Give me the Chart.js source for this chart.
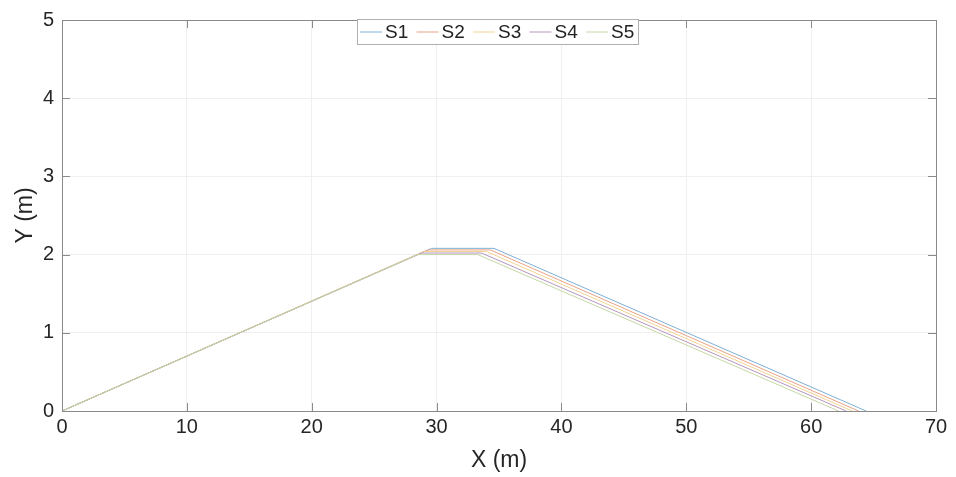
<!DOCTYPE html>
<html>
<head>
<meta charset="utf-8">
<script src="https://cdn.jsdelivr.net/npm/chart.js@4/dist/chart.umd.min.js"></script>
<style>
  html, body { margin: 0; padding: 0; background: #fff; }
  #wrap { width: 956px; height: 477px; position: relative; }
</style>
</head>
<body>
<div id="wrap"><canvas id="c" width="956" height="477"></canvas></div>
<script>
// Profile series: corner points (x in m, y in m)
const seriesNames = ['S1', 'S2', 'S3', 'S4', 'S5'];
const xS1 = [0, 29.6, 34.6, 64.4];
const yS1 = [0, 2.08, 2.08, 0];
const xS2 = [0, 29.3, 34.3, 63.8];
const yS2 = [0, 2.06, 2.06, 0];
const xS3 = [0, 29.0, 34.0, 63.3];
const yS3 = [0, 2.04, 2.04, 0];
const xS4 = [0, 28.8, 33.6, 62.8];
const yS4 = [0, 2.02, 2.02, 0];
const xS5 = [0, 28.5, 33.3, 62.2];
const yS5 = [0, 2.00, 2.00, 0];
const xTicks = [0, 10, 20, 30, 40, 50, 60, 70];
const yTicks = [0, 1, 2, 3, 4, 5];

const seriesX = [xS1, xS2, xS3, xS4, xS5];
const seriesY = [yS1, yS2, yS3, yS4, yS5];
const colors = ['#7fb0d6', '#e9a386', '#f1d390', '#b596be', '#c4d8a4'];

// later series are painted on top of earlier ones
const datasets = seriesNames.map((name, i) => ({
  label: name,
  data: seriesX[i].map((x, k) => ({ x: x, y: seriesY[i][k] })),
  borderColor: colors[i],
  borderWidth: 1,
  pointRadius: 0,
  fill: false,
  tension: 0,
  order: seriesNames.length - i
}));

const FONT = '"Liberation Sans", Arial, Helvetica, sans-serif';
const AXIS = '#8a8a8a';

// Box outline, inward tick marks and the boxed legend inside the plot area
const boxPlugin = {
  id: 'boxPlugin',
  afterDraw(chart) {
    const ctx = chart.ctx;
    const a = chart.chartArea;
    const xs = chart.scales.x, ys = chart.scales.y;
    ctx.save();
    ctx.strokeStyle = AXIS;
    ctx.lineWidth = 1;
    ctx.strokeRect(Math.round(a.left) + 0.5, Math.round(a.top) + 0.5,
                   Math.round(a.right - a.left), Math.round(a.bottom - a.top));
    ctx.beginPath();
    xTicks.forEach(v => {
      const p = Math.round(xs.getPixelForValue(v)) + 0.5;
      ctx.moveTo(p, a.bottom); ctx.lineTo(p, a.bottom - 8);
      ctx.moveTo(p, a.top); ctx.lineTo(p, a.top + 8);
    });
    yTicks.forEach(v => {
      const p = Math.round(ys.getPixelForValue(v)) + 0.5;
      ctx.moveTo(a.left, p); ctx.lineTo(a.left + 8, p);
      ctx.moveTo(a.right, p); ctx.lineTo(a.right - 8, p);
    });
    ctx.stroke();

    // legend
    const lx = 357, ly = 19, lw = 281, lh = 25;
    ctx.fillStyle = '#fff';
    ctx.fillRect(lx, ly, lw, lh);
    ctx.strokeStyle = '#b0b0b0';
    ctx.strokeRect(lx + 0.5, ly + 0.5, lw, lh);
    ctx.font = '19px ' + FONT;
    ctx.textBaseline = 'middle';
    ctx.fillStyle = '#222';
    chart.data.datasets.forEach((ds, i) => {
      const x0 = lx + 3 + i * 56.5;
      const cy = ly + lh / 2 + 0.5;
      ctx.strokeStyle = ds.borderColor;
      ctx.beginPath();
      ctx.moveTo(x0, cy); ctx.lineTo(x0 + 22, cy);
      ctx.stroke();
      ctx.fillText(ds.label, x0 + 25, cy + 1);
    });
    ctx.restore();
  }
};

new Chart(document.getElementById('c'), {
  type: 'line',
  data: { datasets: datasets },
  options: {
    responsive: false,
    animation: false,
    devicePixelRatio: 1,
    layout: { padding: { left: 0, right: 20, top: 15, bottom: 0 } },
    plugins: { legend: { display: false }, tooltip: { enabled: false } },
    scales: {
      x: {
        type: 'linear', min: 0, max: 70,
        afterBuildTicks(scale) { scale.ticks = xTicks.map(v => ({ value: v })); },
        afterFit(scale) { scale.height = 66; },
        grid: { color: '#efefef', drawTicks: false },
        border: { display: false },
        ticks: { color: '#262626', font: { family: FONT, size: 20 }, padding: 4, maxRotation: 0 },
        title: { display: true, text: 'X (m)', color: '#262626', font: { family: FONT, size: 23 }, padding: { top: 0, bottom: 3 } }
      },
      y: {
        type: 'linear', min: 0, max: 5,
        afterBuildTicks(scale) { scale.ticks = yTicks.map(v => ({ value: v })); },
        afterFit(scale) { scale.width = 62; },
        grid: { color: '#efefef', drawTicks: false },
        border: { display: false },
        ticks: { color: '#262626', font: { family: FONT, size: 20 }, padding: 8 },
        title: { display: true, text: 'Y (m)', color: '#262626', font: { family: FONT, size: 23 }, padding: { top: 12, bottom: 0 } }
      }
    }
  },
  plugins: [boxPlugin]
});
</script>
</body>
</html>
